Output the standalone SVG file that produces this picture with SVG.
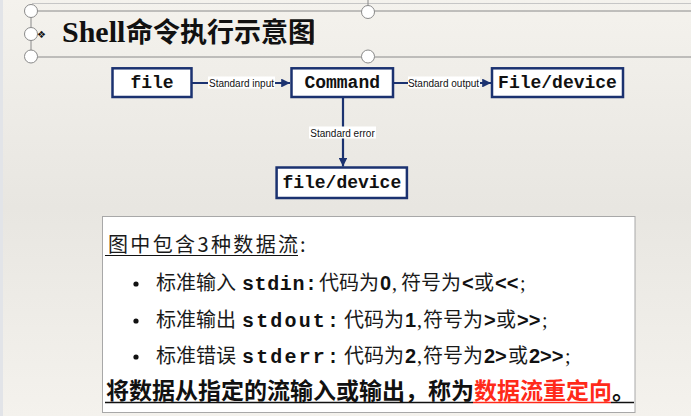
<svg xmlns="http://www.w3.org/2000/svg" width="691" height="416" viewBox="0 0 691 416">
<defs>
<linearGradient id="bg" x1="0" y1="0" x2="0" y2="1">
<stop offset="0" stop-color="#f4f2ed"/>
<stop offset="0.5" stop-color="#e8e6e1"/>
<stop offset="1" stop-color="#f4f2ed"/>
</linearGradient>
<marker id="ah" viewBox="0 0 10 10" refX="10" refY="5" markerWidth="4" markerHeight="4" orient="auto" markerUnits="strokeWidth">
<path d="M0,0 L10,5 L0,10 Z" fill="#1b3270"/>
</marker>
<style>
.box{fill:#ffffff;stroke:#1b3270;stroke-width:2.5}
.bt{font-family:"Liberation Mono",monospace;font-weight:bold;font-size:18px;fill:#111;text-anchor:middle}
.conn{stroke:#1b3270;stroke-width:2.2;fill:none}
.lbl{font-family:"Liberation Sans",Arial,sans-serif;font-size:10px;fill:#111;text-anchor:middle}
.hl{stroke:#8a8a8a;stroke-width:1;fill:none}
.hd{fill:#ffffff;stroke:#8a8a8a;stroke-width:1}
.cj{font-family:"Noto Sans CJK SC",sans-serif;font-size:20px;fill:#1a1a1a}
.mo{font-family:"Liberation Mono",monospace;font-weight:bold;font-size:20px;fill:#111}
.sb{font-family:"Liberation Sans",Arial,sans-serif;font-weight:bold;font-size:20px;fill:#111}
.sr{font-family:"Liberation Serif",serif;font-size:20px;fill:#111}
</style>
</defs>
<rect width="691" height="416" fill="url(#bg)"/>
<rect x="0" y="0" width="3" height="416" fill="#e2e4e8"/>

<g id="selection-frame">
<line x1="32" y1="3.5" x2="691" y2="3.5" stroke="#c6c6c6" stroke-width="1"/>
<line x1="31" y1="11" x2="691" y2="11" class="hl"/>
<line x1="31" y1="57" x2="691" y2="57" class="hl"/>
<line x1="31" y1="11" x2="31" y2="57" class="hl"/>
<line x1="368" y1="0" x2="368" y2="6" class="hl"/>
<circle cx="31" cy="11" r="6.5" class="hd"/>
<circle cx="31" cy="34" r="6.5" class="hd"/>
<circle cx="31" cy="56.5" r="6.5" class="hd"/>
<circle cx="368" cy="12" r="6.5" class="hd"/>
<circle cx="368" cy="56.5" r="6.5" class="hd"/>
</g>

<g id="title">
<text x="37" y="38" font-family="DejaVu Sans,sans-serif" font-size="10" fill="#111">❖</text>
<text x="62" y="42" font-family="Liberation Serif,serif" font-weight="bold" font-size="30" fill="#111">Shell<tspan x="126" font-family="Noto Sans CJK SC,sans-serif" font-size="27">命令执行示意图</tspan></text>
<line x1="313" y1="20" x2="313" y2="43" stroke="#111" stroke-width="1.2"/>
</g>

<g id="connectors">
<line x1="192" y1="83" x2="290" y2="83" class="conn" marker-end="url(#ah)"/>
<rect x="208" y="76.5" width="67" height="12" fill="#ffffff"/>
<text x="241.5" y="86.5" class="lbl">Standard input</text>
<line x1="394" y1="83" x2="491" y2="83" class="conn" marker-end="url(#ah)"/>
<rect x="408" y="76.5" width="72" height="12" fill="#ffffff"/>
<text x="443.5" y="86.5" class="lbl">Standard output</text>
<line x1="343" y1="98" x2="343" y2="166.5" class="conn" marker-end="url(#ah)"/>
<rect x="309" y="126.5" width="67" height="12" fill="#ffffff"/>
<text x="342.5" y="136.5" class="lbl">Standard error</text>
</g>

<g id="node-file">
<rect x="112.5" y="68.3" width="79" height="28.7" class="box"/>
<text x="152" y="88" class="bt">file</text>
</g>
<g id="node-command">
<rect x="291.5" y="68.3" width="101.5" height="28.7" class="box"/>
<text x="342.2" y="88" class="bt">Command</text>
</g>
<g id="node-filedevice-out">
<rect x="492" y="68.3" width="131" height="28.7" class="box"/>
<text x="557.5" y="88" class="bt">File/device</text>
</g>
<g id="node-filedevice-err">
<rect x="276.6" y="167.5" width="130.3" height="30.5" class="box"/>
<text x="341.8" y="188" class="bt">file/device</text>
</g>

<g id="textbox">
<rect x="102.5" y="216.5" width="532.5" height="196" fill="#ffffff" stroke="#a8a8a8" stroke-width="1"/>
<text x="108" y="252" class="cj" textLength="190" lengthAdjust="spacing">图中包含3种数据流</text>
<text x="300" y="252" class="cj">:</text>
<line x1="105" y1="255.5" x2="298" y2="255.5" stroke="#111" stroke-width="1.2"/>

<circle cx="136" cy="284" r="2.6" fill="#111"/>
<text y="290"><tspan x="156" class="cj">标准输入</tspan><tspan x="242" class="mo" textLength="75" lengthAdjust="spacing">stdin:</tspan><tspan x="319" class="cj">代码为</tspan><tspan x="380" class="sb">0</tspan><tspan x="392" class="sr">,</tspan><tspan x="401" class="cj">符号为</tspan><tspan x="462" class="sb">&lt;</tspan><tspan x="474" class="cj">或</tspan><tspan x="495" class="sb">&lt;&lt;</tspan><tspan x="520" class="sr">;</tspan></text>

<circle cx="136" cy="321" r="2.6" fill="#111"/>
<text y="327"><tspan x="156" class="cj">标准输出</tspan><tspan x="242" class="mo" textLength="97" lengthAdjust="spacing">stdout:</tspan><tspan x="344" class="cj">代码为</tspan><tspan x="405" class="sb">1</tspan><tspan x="417" class="sr">,</tspan><tspan x="423" class="cj">符号为</tspan><tspan x="484" class="sb">&gt;</tspan><tspan x="496" class="cj">或</tspan><tspan x="517" class="sb">&gt;&gt;</tspan><tspan x="542" class="sr">;</tspan></text>

<circle cx="136" cy="357" r="2.6" fill="#111"/>
<text y="363"><tspan x="156" class="cj">标准错误</tspan><tspan x="242" class="mo" textLength="97" lengthAdjust="spacing">stderr:</tspan><tspan x="344" class="cj">代码为</tspan><tspan x="405" class="sb">2</tspan><tspan x="417" class="sr">,</tspan><tspan x="423" class="cj">符号为</tspan><tspan x="484" class="sb">2&gt;</tspan><tspan x="508" class="cj">或</tspan><tspan x="529" class="sb">2&gt;&gt;</tspan><tspan x="565" class="sr">;</tspan></text>

<text x="106" y="398.5" font-family="Noto Sans CJK SC,sans-serif" font-weight="bold" font-size="23" fill="#111">将数据从指定的流输入或输出，称为<tspan fill="#ff2a1a">数据流重定向</tspan>。</text>
<line x1="105" y1="402.5" x2="473" y2="402.5" stroke="#111" stroke-width="1.5"/>
<line x1="473" y1="402.5" x2="611" y2="402.5" stroke="#ff2a1a" stroke-width="1.5"/>
<line x1="611" y1="402.5" x2="634" y2="402.5" stroke="#111" stroke-width="1.5"/>
</g>
</svg>
